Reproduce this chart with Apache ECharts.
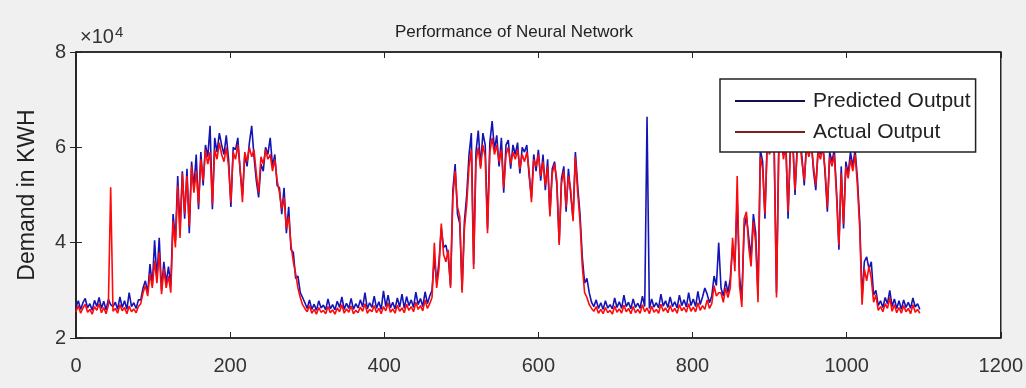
<!DOCTYPE html>
<html>
<head>
<meta charset="utf-8">
<script src="https://cdn.jsdelivr.net/npm/echarts@6/dist/echarts.min.js"></script>
<style>
html,body{margin:0;padding:0;background:#f0f0f0;}
#chart{width:1026px;height:388px;}
</style>
</head>
<body>
<div id="chart"></div>
<script>
// Sample index step between consecutive readings (values in units of 10^4 KWH)
const sampleStep = 3;

const xTicks = [0, 200, 400, 600, 800, 1000, 1200];
const yTicks = [2, 4, 6, 8];

const titleText = 'Performance of Neural Network';
const yName = 'Demand in KWH';
const seriesNames = ['Predicted Output', 'Actual Output'];

const predicted = [
  // 0-81
  2.65,2.78,2.60,2.74,2.83,2.63,2.72,2.58,2.79,2.66,2.85,2.62,2.77,2.59,2.81,2.70,2.66,2.75,2.60,2.86,2.64,2.78,2.60,2.95,2.66,2.74,2.62,2.80,
  // 84-120
  2.80,3.05,3.20,2.95,3.55,3.10,4.05,3.25,4.10,3.00,3.60,3.15,3.50,
  // 123-168
  3.10,4.60,4.05,5.40,4.25,5.50,4.50,5.55,4.20,5.70,5.15,5.85,4.70,5.90,5.20,6.05,
  // 171-255
  5.80,6.45,4.70,6.20,5.90,6.30,6.05,5.85,6.25,5.75,4.75,6.00,5.95,6.20,5.50,5.00,5.85,5.60,6.10,6.45,5.80,5.30,4.95,5.65,5.50,6.00,5.85,6.20,5.60,
  // 258-294
  5.85,5.20,5.15,4.60,5.15,4.20,4.75,3.85,3.80,3.25,3.30,2.95,2.85,
  // 297-462
  2.74,2.62,2.80,2.60,2.71,2.58,2.78,2.63,2.69,2.59,
  2.82,2.61,2.70,2.59,2.77,2.64,2.86,2.60,2.73,2.62,
  2.83,2.60,2.72,2.63,2.80,2.65,2.95,2.61,2.74,2.64,
  2.88,2.62,2.76,2.60,2.99,2.66,2.90,2.63,2.75,2.61,
  2.84,2.65,2.92,2.62,2.87,2.68,2.80,2.64,2.96,2.70,
  2.83,2.66,2.97,2.72,2.88,3.00,
  // 465-510
  3.70,3.15,3.60,4.30,3.90,3.95,3.70,3.10,5.10,5.65,4.60,4.40,3.00,4.45,5.00,5.85,
  // 513-654
  6.30,3.55,5.90,6.35,5.60,6.30,6.05,4.30,6.10,6.55,
  5.95,6.25,5.60,6.20,5.05,6.05,6.15,5.55,6.05,5.85,
  6.10,5.45,6.00,5.90,6.05,5.40,4.95,5.85,5.50,5.95,
  5.30,5.85,5.10,5.75,4.60,5.55,5.70,5.20,4.00,5.35,
  5.60,4.65,5.55,5.00,4.50,5.90,5.20,4.60,
  // 657-846
  3.70,3.15,3.25,2.95,2.75,2.66,2.80,2.62,2.74,2.60,
  2.78,2.63,2.70,2.61,2.84,2.64,2.76,2.62,2.90,2.66,
  2.75,2.61,2.82,2.64,2.73,2.62,2.88,2.66,6.64,2.62,
  2.82,2.65,2.74,2.63,2.92,2.67,2.78,2.64,2.86,2.66,
  2.76,2.63,2.90,2.68,2.80,2.65,2.95,2.68,2.82,2.66,
  2.98,2.70,2.86,3.05,2.92,2.74,2.88,3.30,3.10,4.00,
  3.05,2.88,3.20,2.95,
  // 849-885
  3.25,3.90,3.60,4.90,3.30,2.80,4.30,4.55,4.10,3.70,4.60,4.20,2.90,
  // 888-1011
  5.95,5.70,4.50,6.20,6.05,6.30,6.00,2.95,6.10,6.35,
  5.85,6.20,4.50,6.05,6.25,5.00,6.10,6.30,5.80,5.20,
  6.15,5.90,6.20,5.50,5.10,6.00,5.85,6.15,5.45,4.65,
  5.90,5.70,5.95,5.05,3.85,5.60,4.30,5.70,5.45,5.90,
  5.60,5.95,
  // 1014-1095
  5.35,4.45,2.85,3.60,3.70,3.45,3.60,2.90,3.00,2.68,
  2.78,2.64,2.85,2.72,3.00,2.66,2.82,2.62,2.78,2.60,
  2.80,2.64,2.75,2.62,2.84,2.65,2.72,2.60
];

const actual = [
  // 0-81
  2.55,2.68,2.52,2.63,2.71,2.54,2.60,2.50,2.66,2.58,2.72,2.53,2.64,2.51,2.69,5.16,2.56,2.62,2.52,2.70,2.57,2.64,2.51,2.67,2.55,2.61,2.53,2.66,
  // 84-120
  2.72,2.95,3.10,2.88,3.35,3.05,3.62,3.15,3.80,2.92,3.45,3.05,3.30,
  // 123-168
  2.95,4.45,3.90,5.20,4.10,5.45,4.60,5.40,4.35,5.60,5.05,5.50,4.80,5.75,5.30,5.95,
  // 171-255
  5.65,5.90,4.80,5.95,5.75,6.10,5.85,5.70,6.00,5.60,4.85,5.90,5.75,6.05,5.55,4.85,5.90,5.70,6.00,5.80,5.95,5.45,5.05,5.80,5.65,5.95,5.75,5.85,5.50,
  // 258-294
  5.75,5.30,5.05,4.70,4.95,4.30,4.55,3.95,3.60,3.35,3.05,2.85,2.70,
  // 297-462
  2.62,2.55,2.68,2.52,2.60,2.50,2.64,2.54,2.58,2.51,
  2.66,2.53,2.59,2.50,2.63,2.55,2.70,2.52,2.61,2.54,
  2.67,2.51,2.58,2.53,2.65,2.56,2.72,2.52,2.60,2.55,
  2.68,2.53,2.62,2.51,2.66,2.57,2.74,2.54,2.61,2.52,
  2.69,2.56,2.63,2.53,2.71,2.58,2.66,2.55,2.75,2.60,
  2.68,2.57,2.80,2.62,2.72,2.85,
  // 465-510
  4.00,3.05,3.45,4.40,3.75,3.60,3.85,3.05,4.95,5.50,4.75,4.55,2.95,4.30,4.80,5.60,
  // 513-654
  5.95,3.45,5.70,6.00,5.55,6.05,5.80,4.20,5.90,6.20,
  5.85,6.05,5.70,5.95,5.15,5.85,6.00,5.65,5.90,5.75,
  5.95,5.55,5.85,5.70,5.90,5.50,4.85,5.75,5.60,5.85,
  5.40,5.70,5.20,5.60,4.55,5.45,5.65,5.30,3.95,5.25,
  5.50,4.75,5.40,5.10,4.45,5.80,5.05,4.45,
  // 657-846
  3.50,2.95,2.85,2.70,2.62,2.56,2.66,2.52,2.60,2.51,
  2.64,2.53,2.58,2.50,2.67,2.54,2.61,2.52,2.69,2.55,
  2.62,2.51,2.66,2.53,2.60,2.52,2.70,2.55,2.63,2.51,
  2.67,2.54,2.60,2.52,2.71,2.56,2.63,2.53,2.68,2.55,
  2.62,2.52,2.70,2.57,2.64,2.54,2.72,2.56,2.65,2.55,
  2.74,2.58,2.68,2.60,2.80,2.62,2.72,3.10,2.88,2.95,
  2.95,2.75,3.05,2.85,
  // 849-885
  3.05,4.10,3.40,5.40,3.10,2.65,4.50,4.65,3.90,3.50,4.45,4.00,2.75,
  // 888-1011
  5.80,5.55,4.60,6.05,5.85,6.15,5.90,2.85,5.95,6.20,
  5.75,6.05,4.65,5.90,6.10,5.10,5.95,6.15,5.70,5.30,
  6.00,5.80,6.05,5.60,5.20,5.90,5.75,6.00,5.55,4.75,
  5.80,5.60,5.85,4.95,3.95,5.45,4.40,5.60,5.35,5.75,
  5.50,5.85,
  // 1014-1095
  5.20,4.30,2.70,3.45,3.20,3.50,3.25,2.75,2.90,2.58,
  2.66,2.55,2.72,2.62,2.85,2.56,2.70,2.53,2.64,2.52,
  2.68,2.55,2.62,2.51,2.70,2.54,2.60,2.52
];

const toPairs = arr => arr.map((v, i) => [i * sampleStep, v]);

const chart = echarts.init(document.getElementById('chart'));
const axisColor = '#262626';
const fontFam = '"Liberation Sans", Arial, sans-serif';

const xMin = xTicks[0], xMax = xTicks[xTicks.length - 1];
const xInt = xTicks[1] - xTicks[0];
const yMin = yTicks[0], yMax = yTicks[yTicks.length - 1];
const yInt = yTicks[1] - yTicks[0];

chart.setOption({
  backgroundColor: '#f0f0f0',
  animation: false,
  title: {
    text: titleText,
    left: 509, top: 19, textAlign: 'center',
    textStyle: { fontSize: 17, fontWeight: 'normal', color: '#222', fontFamily: fontFam }
  },
  graphic: [
    { type: 'text', left: 80, top: 25, style: {
      text: '×10{s|4}', fill: '#333', font: '20px ' + fontFam,
      rich: { s: { fontSize: 15, verticalAlign: 'top', padding: [0,0,10,1], fill: '#333' } }
    } }
  ],
  grid: { left: 76, right: 24, top: 52, bottom: 50, show: true, backgroundColor: '#fff', borderColor: axisColor, borderWidth: 1.5 },
  legend: {
    orient: 'vertical', left: 720, top: 79,
    backgroundColor: '#fff', borderColor: '#222', borderWidth: 1.5, borderRadius: 0,
    padding: [11, 5, 9, 15], itemGap: 9, itemWidth: 70, itemHeight: 2,
    icon: 'rect',
    textStyle: { fontSize: 21, color: '#222', fontFamily: fontFam, lineHeight: 22, padding: [0, 0, 0, 3] },
    data: seriesNames, z: 10
  },
  xAxis: [
    { type: 'value', min: xMin, max: xMax, interval: xInt,
      axisLine: { show: true, lineStyle: { color: axisColor, width: 1.5 } },
      axisTick: { show: true, inside: true, length: 6, lineStyle: { color: axisColor } },
      axisLabel: { margin: 18, fontSize: 20, color: '#333', fontFamily: fontFam, formatter: v => String(v) },
      splitLine: { show: false } },
    { type: 'value', position: 'top', min: xMin, max: xMax, interval: xInt,
      axisLine: { show: true, lineStyle: { color: axisColor, width: 1.5 } },
      axisTick: { show: true, inside: true, length: 6, lineStyle: { color: axisColor } },
      axisLabel: { show: false }, splitLine: { show: false } }
  ],
  yAxis: [
    { type: 'value', min: yMin, max: yMax, interval: yInt,
      name: yName, nameLocation: 'middle', nameGap: 37, nameRotate: 90,
      nameTextStyle: { fontSize: 23, color: '#222', fontFamily: fontFam },
      axisLine: { show: true, lineStyle: { color: axisColor, width: 1.5 } },
      axisTick: { show: true, inside: true, length: 6, lineStyle: { color: axisColor } },
      axisLabel: { margin: 10, fontSize: 20, color: '#333', fontFamily: fontFam },
      splitLine: { show: false } },
    { type: 'value', position: 'right', min: yMin, max: yMax, interval: yInt,
      axisLine: { show: true, lineStyle: { color: axisColor, width: 1.5 } },
      axisTick: { show: true, inside: true, length: 6, lineStyle: { color: axisColor } },
      axisLabel: { show: false }, splitLine: { show: false } }
  ],
  series: [
    { name: seriesNames[0], type: 'line', data: toPairs(predicted), symbol: 'none',
      lineStyle: { color: '#1414b4', width: 1.6 }, itemStyle: { color: '#10104a' }, z: 2 },
    { name: seriesNames[1], type: 'line', data: toPairs(actual), symbol: 'none',
      lineStyle: { color: '#ff0a0a', width: 1.6 }, itemStyle: { color: '#7a2020' }, z: 3 }
  ]
});
</script>
</body>
</html>
